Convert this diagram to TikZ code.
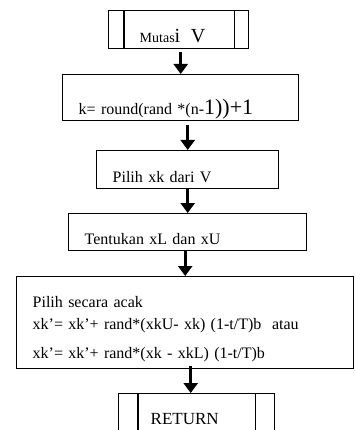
\documentclass[tikz,border=0pt]{standalone}
\usepackage{fontspec}
\setmainfont{Liberation Serif}
\usetikzlibrary{arrows.meta}

\tikzset{
  box/.style={draw, line width=1.4pt, rectangle, anchor=north west,
    inner xsep=16pt, inner ysep=2pt, align=left,
    font=\fontsize{16}{22}\selectfont},
  lowtext/.style={text depth=4pt},
  arr/.style={-{Triangle[length=10pt,width=14pt]}, line width=2.6pt},
}

\begin{document}
\begin{tikzpicture}[x=1pt,y=-1pt]
            \clip (0,0) rectangle (354,430);

            % Define boxes
            \node[box, lowtext, inner xsep=31pt, text width=78pt, text height=30pt] (mutasi) at (108,10)
              {{\fontsize{14}{17}\selectfont Mutas}{\fontsize{20}{24}\selectfont i\ \ V}};
            \node[box, lowtext, text width=204pt, text height=38pt] (kbox) at (62,74)
              {k= round(rand *(n-{\fontsize{22}{26}\selectfont 1))+1}};
            \node[box, lowtext, text width=150pt, text height=30pt] (pilih) at (96,150) {Pilih xk dari V};
            \node[box, lowtext, text width=206pt, text height=29pt] (tentukan) at (68,213) {Tentukan xL dan xU};
            \node[box, inner ysep=0pt, text width=305pt, minimum height=92pt] (acak) at (16,276)
              {\rule{0pt}{25pt}Pilih secara acak\\
               xk’= xk’+ rand*(xkU- xk) (1-t/T)b\ \ atau\\[7pt]
               xk’= xk’+ rand*(xk - xkL) (1-t/T)b\rule[-4pt]{0pt}{4pt}};
            \node[box, inner xsep=32pt, text width=92pt, text height=29pt, text depth=7pt,
              font=\fontsize{17}{20}\selectfont] (ret) at (118,393) {RETURN};

            % Side bars of the sub-process boxes
            \draw[line width=1.4pt] ([xshift=16pt]mutasi.north west) -- ([xshift=16pt]mutasi.south west);
            \draw[line width=1.4pt] ([xshift=-15pt]mutasi.north east) -- ([xshift=-15pt]mutasi.south east);
            \draw[line width=1.4pt] ([xshift=20pt]ret.north west) -- ([xshift=20pt]ret.south west);
            \draw[line width=1.4pt] ([xshift=-20pt]ret.north east) -- ([xshift=-20pt]ret.south east);

            % Draw arrows
            \draw[arr] ([yshift=-3pt]kbox.north |- mutasi.south) -- (kbox.north);
            \draw[arr] ([yshift=-4pt]pilih.north |- kbox.south) -- (pilih.north);
            \draw[arr] (tentukan.north |- pilih.south) -- (tentukan.north);
            \draw[arr] (acak.north |- tentukan.south) -- (acak.north);
            \draw[arr] ([xshift=-6pt,yshift=3pt]ret.north |- acak.south) -- ([xshift=-6pt]ret.north);
        \end{tikzpicture}
\end{document}
